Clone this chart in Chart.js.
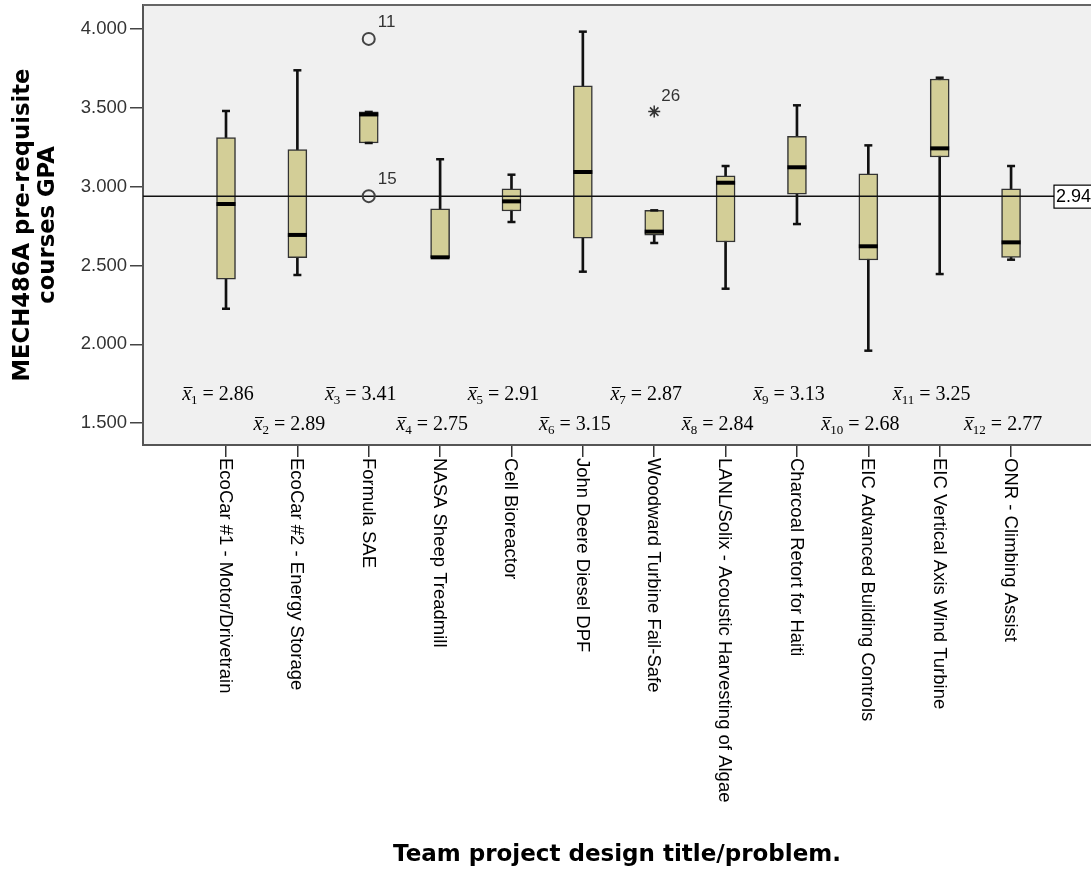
<!DOCTYPE html>
<html>
<head>
<meta charset="utf-8">
<title>MECH486A pre-requisite courses GPA by team project</title>
<script src="https://cdn.jsdelivr.net/npm/chart.js@4.4.1/dist/chart.umd.min.js"></script>
<style>
  html, body { margin: 0; padding: 0; background: #ffffff; overflow: hidden; }
  #wrap { width: 1091px; height: 873px; position: relative; }
</style>
</head>
<body>
<div id="wrap"><canvas id="boxChart" width="1091" height="873"></canvas></div>
<script>
// team projects (x axis)
const categories = [
    'EcoCar #1 - Motor/Drivetrain',
    'EcoCar #2 - Energy Storage',
    'Formula SAE',
    'NASA Sheep Treadmill',
    'Cell Bioreactor',
    'John Deere Diesel DPF',
    'Woodward Turbine Fail-Safe',
    'LANL/Solix - Acoustic Harvesting of Algae',
    'Charcoal Retort for Haiti',
    'EIC Advanced Building Controls',
    'EIC Vertical Axis Wind Turbine',
    'ONR - Climbing Assist'
];

// box plot values
const whiskerLow  = [2.226, 2.440, 3.277, 2.550, 2.776, 2.461, 2.643, 2.353, 2.763, 1.960, 2.446, 2.537];
const q1          = [2.413, 2.550, 3.277, 2.550, 2.846, 2.673, 2.692, 2.649, 2.952, 2.535, 3.188, 2.552];
const medians     = [2.890, 2.694, 3.458, 2.552, 2.907, 3.093, 2.715, 3.025, 3.123, 2.622, 3.243, 2.647];
const q3          = [3.311, 3.235, 3.474, 2.860, 2.987, 3.639, 2.850, 3.068, 3.320, 3.082, 3.683, 2.987];
const whiskerHigh = [3.480, 3.738, 3.474, 3.174, 3.076, 3.983, 2.850, 3.131, 3.516, 3.262, 3.691, 3.131];
const means       = [2.86, 2.89, 3.41, 2.75, 2.91, 3.15, 2.87, 2.84, 3.13, 2.68, 3.25, 2.77];

// outliers (circles) and extremes (stars)
const outlierIdx = [2, 2];
const outlierVal = [3.937, 2.940];
const outlierId  = ['11', '15'];
const extremeIdx = [6];
const extremeVal = [3.476];
const extremeId  = ['26'];

// overall mean reference line
const refValue = 2.94;

const yTicks = [1.5, 2.0, 2.5, 3.0, 3.5, 4.0];
const X_MIN = -1.163, X_MAX = 12.12;
const Y_MIN = 1.362, Y_MAX = 4.152;

const BOX_FILL = '#d3ce97';
const PLOT_BG = '#f0f0f0';

const pts = (idx, vals) => idx.map((x, k) => ({ x: x, y: vals[k] }));
const allIdx = categories.map((c, i) => i);

function drawMeanLabel(ctx, idx, value, cx, baseline) {
    const sub = String(idx + 1);
    const rest = ' = ' + value.toFixed(2);
    ctx.font = 'italic 20px "Liberation Serif"';
    const wx = ctx.measureText('x').width;
    ctx.font = '13px "Liberation Serif"';
    const ws = ctx.measureText(sub).width;
    ctx.font = '20px "Liberation Serif"';
    const wr = ctx.measureText(rest).width;
    let x = cx - (wx + ws + wr) / 2;

    ctx.fillStyle = '#000';
    ctx.textAlign = 'left';
    ctx.textBaseline = 'alphabetic';
    ctx.font = 'italic 20px "Liberation Serif"';
    ctx.fillText('x', x, baseline);
    // bar over the x
    ctx.strokeStyle = '#000';
    ctx.lineWidth = 1;
    ctx.beginPath();
    ctx.moveTo(x + 1.5, baseline - 12.5);
    ctx.lineTo(x + wx + 1.5, baseline - 12.5);
    ctx.stroke();
    x += wx;
    ctx.font = '13px "Liberation Serif"';
    ctx.fillText(sub, x, baseline + 4);
    x += ws;
    ctx.font = '20px "Liberation Serif"';
    ctx.fillText(rest, x, baseline);
}

const extrasPlugin = {
    id: 'extras',
    beforeDraw: (chart) => {
        const { ctx, chartArea: a } = chart;
        ctx.save();
        ctx.fillStyle = PLOT_BG;
        ctx.fillRect(a.left, a.top, a.right - a.left, a.bottom - a.top);
        ctx.restore();
    },
    afterDraw: (chart) => {
        const { ctx, chartArea: a } = chart;
        const xs = chart.scales.x, ys = chart.scales.y;
        ctx.save();

        // top frame line
        ctx.strokeStyle = '#666';
        ctx.lineWidth = 2;
        ctx.beginPath();
        ctx.moveTo(a.left, a.top);
        ctx.lineTo(a.right, a.top);
        ctx.stroke();

        // case labels next to outliers
        ctx.fillStyle = '#333';
        ctx.font = '17px "Liberation Sans"';
        ctx.textAlign = 'left';
        ctx.textBaseline = 'alphabetic';
        outlierIdx.forEach((ci, k) => {
            ctx.fillText(outlierId[k], xs.getPixelForValue(ci) + 9, ys.getPixelForValue(outlierVal[k]) - 12);
        });
        extremeIdx.forEach((ci, k) => {
            ctx.fillText(extremeId[k], xs.getPixelForValue(ci) + 7, ys.getPixelForValue(extremeVal[k]) - 11);
        });

        // reference line value box
        const ry = ys.getPixelForValue(refValue);
        ctx.fillStyle = '#fff';
        ctx.fillRect(1054, ry - 11, 40, 23);
        ctx.strokeStyle = '#000';
        ctx.lineWidth = 1.2;
        ctx.strokeRect(1054, ry - 11, 40, 23);
        ctx.fillStyle = '#000';
        ctx.font = '18px "Liberation Sans"';
        ctx.textBaseline = 'middle';
        ctx.fillText(refValue.toFixed(2), 1056, ry + 1);

        // group means, two staggered rows
        means.forEach((m, i) => {
            const base = i % 2 === 0 ? a.bottom - 45 : a.bottom - 15;
            drawMeanLabel(ctx, i, m, xs.getPixelForValue(i) - 8, base);
        });

        // category labels, reading top to bottom
        ctx.fillStyle = '#000';
        ctx.font = '18.5px "Liberation Sans"';
        ctx.textAlign = 'left';
        ctx.textBaseline = 'middle';
        categories.forEach((c, i) => {
            ctx.save();
            ctx.translate(xs.getPixelForValue(i) - 1, a.bottom + 13);
            ctx.rotate(Math.PI / 2);
            ctx.fillText(c, 0, 0);
            ctx.restore();
        });
        ctx.restore();
    }
};

const ctx = document.getElementById('boxChart').getContext('2d');
new Chart(ctx, {
    type: 'bar',
    data: {
        datasets: [
            {
                // whisker stems
                type: 'bar',
                data: allIdx.map(i => ({ x: i, y: [whiskerLow[i], whiskerHigh[i]] })),
                backgroundColor: '#111',
                borderWidth: 0,
                barThickness: 2,
                grouped: false,
                order: 6
            },
            {
                // boxes q1..q3
                type: 'bar',
                data: allIdx.map(i => ({ x: i, y: [q1[i], q3[i]] })),
                backgroundColor: BOX_FILL,
                borderColor: '#333',
                borderWidth: 1.5,
                borderSkipped: false,
                barThickness: 19,
                grouped: false,
                order: 5
            },
            {
                // overall mean line
                type: 'line',
                data: [{ x: X_MIN, y: refValue }, { x: X_MAX, y: refValue }],
                borderColor: '#111',
                borderWidth: 1.5,
                pointRadius: 0,
                order: 4
            },
            {
                // whisker caps
                type: 'scatter',
                data: pts(allIdx, whiskerLow).concat(pts(allIdx, whiskerHigh)),
                pointStyle: 'line',
                pointRadius: 4,
                borderColor: '#111',
                borderWidth: 2.5,
                order: 3
            },
            {
                // medians
                type: 'scatter',
                data: pts(allIdx, medians),
                pointStyle: 'line',
                pointRadius: 9.5,
                borderColor: '#000',
                borderWidth: 4,
                order: 2
            },
            {
                type: 'scatter',
                data: pts(outlierIdx, outlierVal),
                pointStyle: 'circle',
                pointRadius: 6,
                backgroundColor: 'rgba(0,0,0,0)',
                borderColor: '#444',
                borderWidth: 2,
                order: 1
            },
            {
                type: 'scatter',
                data: pts(extremeIdx, extremeVal),
                pointStyle: 'star',
                pointRadius: 6,
                borderColor: '#333',
                borderWidth: 1.5,
                order: 0
            }
        ]
    },
    options: {
        responsive: false,
        animation: false,
        events: [],
        layout: { autoPadding: false, padding: { top: 5, left: 0, right: 0, bottom: 0 } },
        plugins: { legend: { display: false }, tooltip: { enabled: false } },
        scales: {
            x: {
                type: 'linear',
                offset: false,
                min: X_MIN,
                max: X_MAX,
                afterBuildTicks: (scale) => { scale.ticks = allIdx.map(v => ({ value: v })); },
                afterFit: (scale) => {
                    scale.height = 428;
                    scale.paddingLeft = 0;
                    scale.paddingRight = 0;
                },
                ticks: { display: false },
                grid: { offset: false, drawOnChartArea: false, drawTicks: true, tickLength: 12, color: '#333', lineWidth: 1.5 },
                border: { display: true, color: '#555', width: 2 },
                title: {
                    display: true,
                    text: 'Team project design title/problem.',
                    color: '#000',
                    font: { family: 'DejaVu Sans', size: 23, weight: 'bold' },
                    padding: { top: 0, bottom: 4 }
                }
            },
            y: {
                type: 'linear',
                min: Y_MIN,
                max: Y_MAX,
                afterBuildTicks: (scale) => { scale.ticks = yTicks.map(v => ({ value: v })); },
                afterFit: (scale) => {
                    scale.width = 143;
                    scale.paddingTop = 0;
                    scale.paddingBottom = 0;
                },
                ticks: {
                    color: '#333',
                    padding: 3,
                    font: { family: 'Liberation Sans', size: 18.5 },
                    callback: (v) => v.toFixed(3)
                },
                grid: { drawOnChartArea: false, drawTicks: true, tickLength: 13, color: '#444', lineWidth: 1.5 },
                border: { display: true, color: '#555', width: 2 },
                title: {
                    display: true,
                    text: ['MECH486A pre-requisite', 'courses GPA'],
                    color: '#000',
                    font: { family: 'DejaVu Sans', size: 22.7, weight: 'bold', lineHeight: 1.08 },
                    padding: { top: 11, bottom: 0 }
                }
            }
        }
    },
    plugins: [extrasPlugin]
});
</script>
</body>
</html>
